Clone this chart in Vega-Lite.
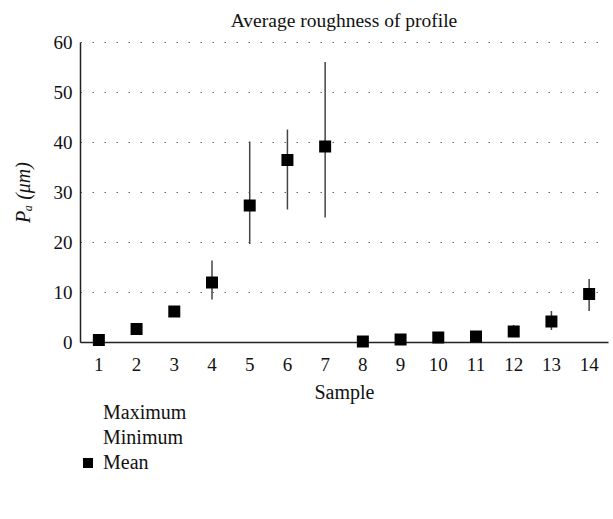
{
  "$schema": "https://vega.github.io/schema/vega-lite/v6.json",
  "width": 528,
  "height": 300,
  "autosize": "none",
  "padding": {"left": 80, "top": 42, "right": 5, "bottom": 177},
  "background": "white",
  "config": {
    "font": "Liberation Serif",
    "view": {"stroke": null}
  },
  "title": {
    "text": "Average roughness of profile",
    "fontSize": 19.5,
    "fontWeight": "normal",
    "color": "#111",
    "anchor": "middle",
    "offset": 2
  },
  "data": {
    "values": [
      {"sample": "1", "mean": 0.4, "min": 0.3, "max": 0.5, "series": "Mean"},
      {"sample": "2", "mean": 2.6, "min": 2.3, "max": 2.9, "series": "Mean"},
      {"sample": "3", "mean": 6.1, "min": 5.7, "max": 6.5, "series": "Mean"},
      {"sample": "4", "mean": 11.9, "min": 8.5, "max": 16.3, "series": "Mean"},
      {"sample": "5", "mean": 27.3, "min": 19.6, "max": 40.1, "series": "Mean"},
      {"sample": "6", "mean": 36.4, "min": 26.5, "max": 42.5, "series": "Mean"},
      {"sample": "7", "mean": 39.1, "min": 24.9, "max": 56.0, "series": "Mean"},
      {"sample": "8", "mean": 0.1, "min": 0.0, "max": 0.2, "series": "Mean"},
      {"sample": "9", "mean": 0.5, "min": 0.3, "max": 0.7, "series": "Mean"},
      {"sample": "10", "mean": 0.9, "min": 0.6, "max": 1.2, "series": "Mean"},
      {"sample": "11", "mean": 1.1, "min": 0.8, "max": 1.5, "series": "Mean"},
      {"sample": "12", "mean": 2.1, "min": 1.5, "max": 3.4, "series": "Mean"},
      {"sample": "13", "mean": 4.1, "min": 2.4, "max": 6.2, "series": "Mean"},
      {"sample": "14", "mean": 9.6, "min": 6.2, "max": 12.6, "series": "Mean"}
    ]
  },
  "encoding": {
    "x": {
      "field": "sample",
      "type": "ordinal",
      "sort": null,
      "scale": {"paddingInner": 0, "paddingOuter": 0},
      "axis": {
        "title": "Sample",
        "labelAngle": 0,
        "labelFontSize": 19,
        "labelColor": "#111",
        "labelPadding": 13,
        "titleFontSize": 20,
        "titleFontWeight": "normal",
        "titleColor": "#111",
        "titlePadding": 8,
        "ticks": false,
        "domainColor": "#222",
        "domainWidth": 1.5,
        "grid": false
      }
    }
  },
  "layer": [
    {
      "mark": {"type": "rule", "color": "#444", "strokeWidth": 1.5},
      "encoding": {
        "y": {
          "field": "min",
          "type": "quantitative",
          "scale": {"domain": [0, 60]},
          "axis": {
            "title": "Pₐ (μm)",
            "values": [0, 10, 20, 30, 40, 50, 60],
            "labelFontSize": 19,
            "labelColor": "#111",
            "labelPadding": 8,
            "titleFontSize": 20,
            "titleFontWeight": "normal",
            "titleFontStyle": "italic",
            "titleColor": "#111",
            "titlePadding": 20,
            "ticks": false,
            "domainColor": "#222",
            "domainWidth": 1.5,
            "grid": true,
            "gridColor": "#666",
            "gridDash": [1.5, 10.5],
            "gridWidth": 1.2
          }
        },
        "y2": {"field": "max"}
      }
    },
    {
      "mark": {"type": "point", "shape": "square", "filled": true, "size": 144, "opacity": 1},
      "encoding": {
        "y": {"field": "mean", "type": "quantitative"},
        "color": {
          "field": "series",
          "type": "nominal",
          "scale": {"domain": ["Maximum", "Minimum", "Mean"], "range": ["transparent", "transparent", "black"]},
          "legend": {
            "title": null,
            "orient": "none",
            "legendX": -2,
            "legendY": 361,
            "padding": 0,
            "symbolType": "square",
            "symbolSize": 100,
            "symbolStrokeWidth": 0,
            "labelFontSize": 20,
            "labelColor": "#111",
            "labelOffset": 5,
            "rowPadding": 5
          }
        }
      }
    }
  ]
}
